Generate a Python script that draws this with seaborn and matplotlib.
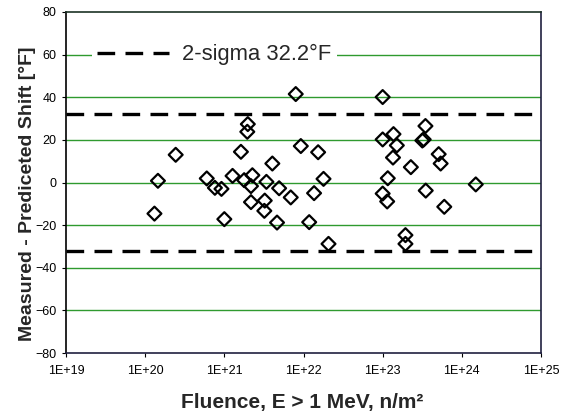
import numpy as np
import pandas as pd
import matplotlib
matplotlib.use("Agg")
import matplotlib.pyplot as plt
import seaborn as sns
from matplotlib.ticker import FixedLocator, FixedFormatter

# ---- data ----
fluence = [1.31e20, 1.45e20, 2.43e20, 6.0e20, 7.6e20, 9.2e20, 1.0e21, 1.27e21,
           1.62e21, 1.78e21, 1.98e21, 1.95e21, 2.17e21, 2.26e21, 2.17e21, 3.24e21,
           3.2e21, 3.4e21, 4.04e21, 4.63e21, 4.92e21, 6.9e21, 7.98e21, 9.25e21,
           1.18e22, 1.36e22, 1.53e22, 1.79e22, 2.07e22, 1.0e23, 1.0e23, 1.0e23,
           1.14e23, 1.16e23, 1.37e23, 1.35e23, 1.51e23, 1.94e23, 1.94e23, 2.27e23,
           3.17e23, 3.3e23, 3.47e23, 3.5e23, 5.1e23, 5.4e23, 6.0e23, 1.5e24]
residual = [-14.6, 0.8, 13.0, 1.9, -2.5, -3.0, -17.2, 3.1,
            14.4, 1.1, 27.4, 23.8, -1.7, 3.4, -9.2, -8.5,
            -13.3, 0.3, 8.9, -18.8, -2.7, -7.0, 41.5, 17.1,
            -18.6, -5.0, 14.2, 1.7, -28.8, 40.1, 20.2, -5.2,
            -8.9, 2.0, 22.7, 11.7, 17.4, -24.7, -28.8, 7.2,
            19.7, 20.2, 26.5, -3.8, 13.3, 8.9, -11.4, -0.9]
two_sigma = 32.2
legend_label = "2-sigma 32.2\u00b0F"
x_ticks = [1e19, 1e20, 1e21, 1e22, 1e23, 1e24, 1e25]
x_tick_labels = ["1E+19", "1E+20", "1E+21", "1E+22", "1E+23", "1E+24", "1E+25"]
y_ticks = [-80, -60, -40, -20, 0, 20, 40, 60, 80]
x_label = "Fluence, E > 1 MeV, n/m\u00b2"
y_label = "Measured - Prediceted Shift [\u00b0F]"

df = pd.DataFrame({"fluence": fluence, "residual": residual})

sns.set_style("ticks")
plt.rcParams["font.family"] = ["Liberation Sans", "DejaVu Sans"]

fig = plt.figure(figsize=(5.65, 4.18), dpi=100)
ax = fig.add_axes([66 / 565, 1 - 353 / 418, 475 / 565, 341 / 418])

ax.set_xscale("log")
ax.set_xlim(x_ticks[0], x_ticks[-1])
ax.set_ylim(y_ticks[0], y_ticks[-1])

# green horizontal gridlines
for yv in y_ticks[1:-1]:
    ax.axhline(yv, color="#2f9a2f", lw=1.0, zorder=1)

# 2-sigma lines
line_kw = dict(color="black", lw=2.4, dashes=(5.3, 3.1), zorder=2)
ax.axhline(two_sigma, label=legend_label, **line_kw)
ax.axhline(-two_sigma, **line_kw)

sns.scatterplot(data=df, x="fluence", y="residual", ax=ax, marker="D", s=50,
                facecolors="none", edgecolor="black", linewidth=1.6,
                zorder=3, legend=False)
for coll in ax.collections:
    coll.set_facecolor("none")
    coll.set_edgecolor("black")

ax.xaxis.set_major_locator(FixedLocator(x_ticks))
ax.xaxis.set_major_formatter(FixedFormatter(x_tick_labels))
ax.xaxis.set_minor_locator(FixedLocator([]))
ax.set_yticks(y_ticks)
ax.tick_params(axis="x", direction="out", length=3, width=0.8, pad=6,
               labelsize=9, colors="black")
ax.tick_params(axis="y", direction="out", length=3, width=0.8, pad=4,
               labelsize=9, colors="black")

for side in ["left", "right", "top", "bottom"]:
    ax.spines[side].set_visible(True)
    ax.spines[side].set_linewidth(1.2)
ax.spines["left"].set_color("black")
ax.spines["top"].set_color("#1c3326")
ax.spines["right"].set_color("#202040")
ax.spines["bottom"].set_color("#202040")

ax.set_xlabel(x_label, fontsize=15, fontweight="bold")
ax.set_ylabel(y_label, fontsize=14, fontweight="bold")
ax.xaxis.label.set_va("center")
ax.yaxis.label.set_va("center")
ax.xaxis.set_label_coords(0.498, -0.1437)
ax.yaxis.set_label_coords(-0.0821, 0.468)

leg = ax.legend(loc="center left", bbox_to_anchor=((92 - 66) / 475, 0.875),
                borderaxespad=0, frameon=True, fancybox=False, framealpha=1,
                facecolor="white", edgecolor="none", fontsize=15.8,
                handlelength=3.25, handletextpad=0.62, borderpad=0.25)
leg.set_zorder(5)

fig.savefig("out.png", dpi=100, facecolor="white")
